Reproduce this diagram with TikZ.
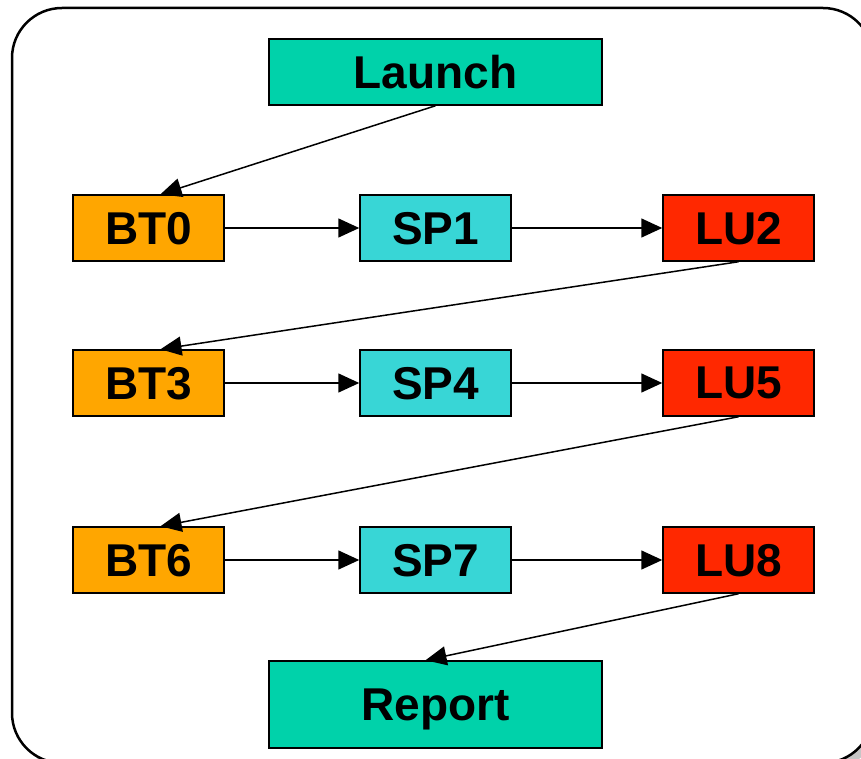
\documentclass[tikz,border=0pt]{standalone}
\usepackage{fontspec}
\setmainfont{Liberation Sans}
\usetikzlibrary{arrows.meta}

\definecolor{endcol}{RGB}{0,210,170}
\definecolor{btcol}{RGB}{255,166,0}
\definecolor{spcol}{RGB}{56,214,214}
\definecolor{lucol}{RGB}{255,40,0}

\begin{document}
\begin{tikzpicture}[x=1pt, y=-1pt,
	box/.style={draw, line width=1.5pt, inner sep=0pt, text depth=0pt, minimum width=151pt, minimum height=66pt, font=\fontsize{46}{50}\selectfont\bfseries},
	wide/.style={box, fill=endcol, minimum width=333pt},
	flow/.style={-{Triangle[length=21pt,width=19pt]}, line width=1.5pt}]
	\clip (0,0) rectangle (861,759);
	\fill [gray!45, rounded corners=50pt] (18,14) rectangle (879,769);
	\draw [fill=white, line width=2.5pt, rounded corners=50pt] (12,8) rectangle (873,763);

	\node [wide] (launch) at (435.5,72) {Launch};
	\node [box, fill=btcol] (bt0) at (148.5,228) {BT0};
	\node [box, fill=spcol] (sp1) at (435.5,228) {SP1};
	\node [box, fill=lucol] (lu2) at (738.5,228) {LU2};
	\node [box, fill=btcol] (bt3) at (148.5,383) {BT3};
	\node [box, fill=spcol] (sp4) at (435.5,383) {SP4};
	\node [box, fill=lucol] (lu5) at (738.5,383) {LU5};
	\node [box, fill=btcol] (bt6) at (148.5,560) {BT6};
	\node [box, fill=spcol] (sp7) at (435.5,560) {SP7};
	\node [box, fill=lucol] (lu8) at (738.5,560) {LU8};
	\node [wide, minimum height=87pt] (report) at (435.5,704.5) {Report};

	\draw [flow] (launch.south) -- ([xshift=12pt]bt0.north);
	\draw [flow] (bt0) -- (sp1);
	\draw [flow] (sp1) -- (lu2);
	\draw [flow] (lu2.south) -- ([xshift=12pt]bt3.north);
	\draw [flow] (bt3) -- (sp4);
	\draw [flow] (sp4) -- (lu5);
	\draw [flow] (lu5.south) -- ([xshift=12pt]bt6.north);
	\draw [flow] (bt6) -- (sp7);
	\draw [flow] (sp7) -- (lu8);
	\draw [flow] (lu8.south) -- ([xshift=-10pt]report.north);
\end{tikzpicture}
\end{document}
